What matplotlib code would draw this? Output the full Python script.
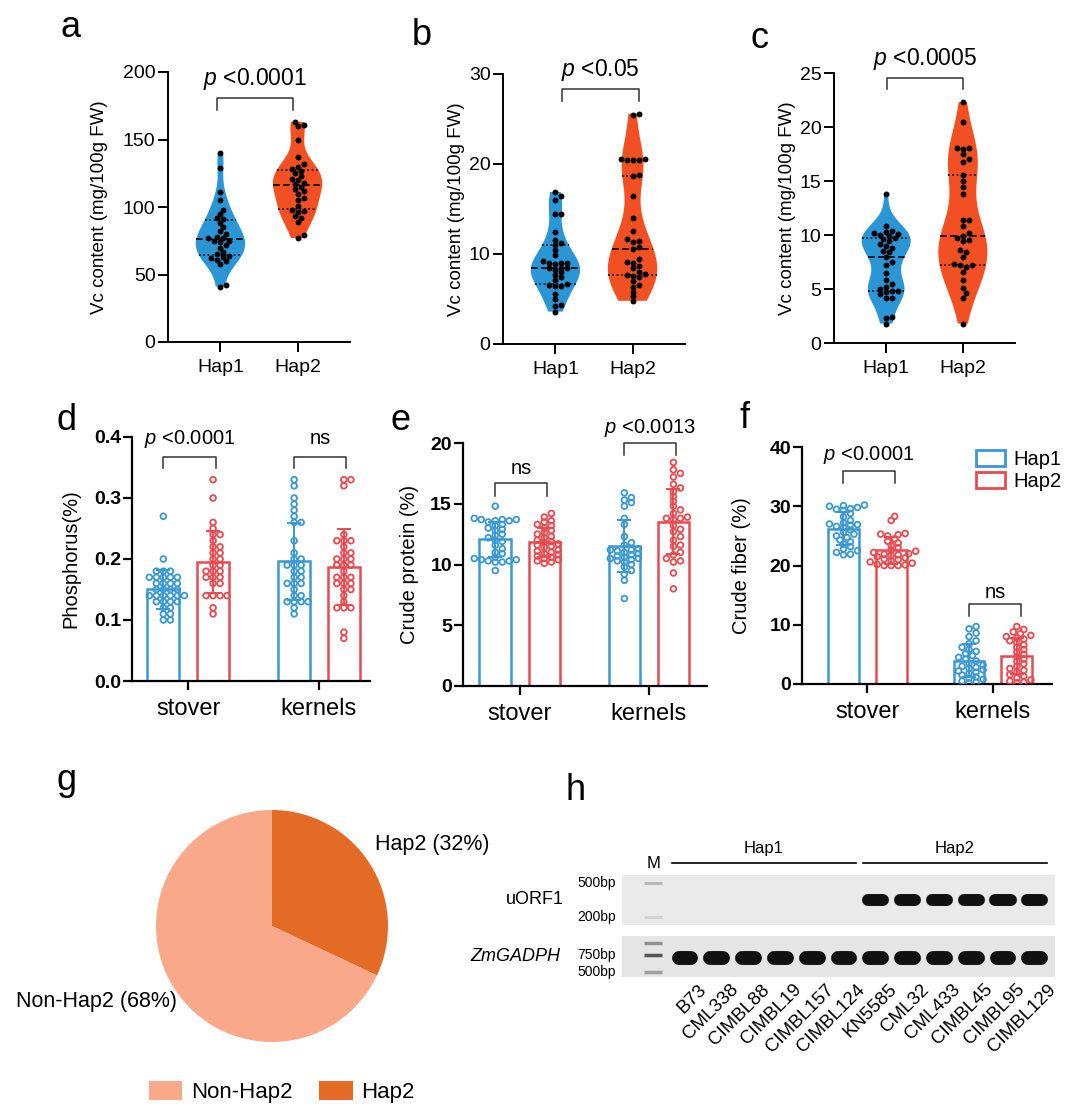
import numpy as np
import matplotlib
matplotlib.use('Agg')
import matplotlib.pyplot as plt
from matplotlib.patches import Patch
from matplotlib.transforms import blended_transform_factory

plt.rcParams['font.family'] = ['Liberation Sans', 'DejaVu Sans']
plt.rcParams['mathtext.fontset'] = 'custom'
plt.rcParams['mathtext.it'] = 'Liberation Sans:italic'
plt.rcParams['mathtext.rm'] = 'Liberation Sans'

# ---------------- data ----------------
groups = ['Hap1', 'Hap2']
tissues = ['stover', 'kernels']

# a-c: Vc content (mg/100g FW)
vc_a_hap1 = [41, 42, 58, 60, 61, 62, 63, 64, 65, 67, 70, 72, 74, 75, 75, 77, 77, 78, 80, 82,
             85, 88, 91, 92, 95, 98, 105, 111, 129, 140]
vc_a_hap2 = [77, 79, 89, 92, 93, 96, 97, 98, 101, 105, 107, 110, 112, 113, 115, 117, 118, 120,
             121, 123, 125, 127, 128, 130, 132, 137, 150, 160, 161, 163]
vc_b_hap1 = [3.6, 4.2, 4.3, 5.0, 5.6, 6.5, 6.5, 6.6, 6.7, 7.1, 7.4, 7.7, 8.0, 8.2, 8.4, 8.4, 8.5,
             8.9, 9.0, 9.0, 9.0, 9.2, 9.9, 10.4, 11.0, 11.2, 11.6, 12.5, 14.5, 14.5, 16.0, 16.4, 16.9]
vc_b_hap2 = [4.8, 5.3, 5.8, 6.3, 6.6, 7.0, 7.4, 7.6, 7.7, 7.8, 8.0, 8.4, 8.7, 9.0, 9.1, 9.4, 10.6,
             10.8, 11.3, 11.5, 11.7, 12.6, 14.0, 16.4, 18.7, 18.8, 20.4, 20.5, 20.5, 20.6, 20.6,
             25.5, 25.6]
vc_c_hap1 = [1.8, 2.3, 2.4, 4.2, 4.2, 4.5, 4.7, 4.8, 4.8, 5.0, 5.2, 5.5, 5.8, 6.5, 7.2, 7.5, 8.0,
             8.4, 8.5, 8.8, 9.0, 9.2, 9.4, 9.6, 9.7, 9.9, 10.0, 10.1, 10.2, 10.3, 10.4, 10.8, 13.8]
vc_c_hap2 = [1.8, 4.2, 4.6, 5.1, 5.8, 6.6, 7.0, 7.2, 7.2, 7.3, 8.0, 8.4, 8.6, 9.4, 9.5, 9.7, 9.9,
             10.2, 10.8, 11.4, 11.4, 13.8, 14.4, 15.0, 15.6, 16.8, 17.0, 17.5, 18.0, 18.1, 18.1,
             20.5, 22.3]

# d: phosphorus (%)
phos_stover_hap1 = [0.27, 0.20, 0.18, 0.18, 0.18, 0.17, 0.17, 0.17, 0.17, 0.17, 0.16, 0.16, 0.16,
                    0.16, 0.15, 0.15, 0.15, 0.15, 0.14, 0.14, 0.14, 0.14, 0.14, 0.14, 0.13, 0.13,
                    0.13, 0.13, 0.12, 0.12, 0.11, 0.11, 0.10, 0.10]
phos_stover_hap2 = [0.33, 0.30, 0.26, 0.25, 0.24, 0.24, 0.23, 0.22, 0.22, 0.21, 0.21, 0.20, 0.20,
                    0.19, 0.19, 0.18, 0.18, 0.18, 0.17, 0.17, 0.17, 0.16, 0.16, 0.14, 0.14, 0.14,
                    0.14, 0.12, 0.11]
phos_kernel_hap1 = [0.33, 0.32, 0.30, 0.29, 0.28, 0.27, 0.26, 0.26, 0.23, 0.21, 0.20, 0.20, 0.19,
                    0.19, 0.19, 0.18, 0.18, 0.17, 0.17, 0.16, 0.16, 0.16, 0.15, 0.14, 0.14, 0.13,
                    0.13, 0.13, 0.13, 0.12, 0.11]
phos_kernel_hap2 = [0.33, 0.33, 0.32, 0.24, 0.23, 0.23, 0.23, 0.22, 0.21, 0.21, 0.20, 0.20, 0.20,
                    0.19, 0.19, 0.19, 0.18, 0.17, 0.17, 0.17, 0.16, 0.16, 0.16, 0.15, 0.15, 0.14,
                    0.13, 0.12, 0.12, 0.12, 0.08, 0.07]

# e: crude protein (%)
prot_stover_hap1 = [14.8, 13.8, 13.7, 13.7, 13.7, 13.6, 13.6, 13.5, 13.3, 13.2, 13.0, 12.9, 12.8,
                    12.5, 12.4, 12.2, 12.0, 11.9, 11.6, 11.3, 11.0, 10.9, 10.6, 10.5, 10.4, 10.4,
                    10.3, 10.3, 10.2, 10.2, 9.5]
prot_stover_hap2 = [14.2, 13.9, 13.6, 13.5, 13.3, 13.2, 13.0, 12.8, 12.6, 12.5, 12.3, 12.2, 12.0,
                    11.9, 11.8, 11.7, 11.6, 11.5, 11.4, 11.2, 11.1, 11.0, 10.9, 10.8, 10.7, 10.6,
                    10.5, 10.4, 10.3, 10.2, 10.1]
prot_kernel_hap1 = [15.9, 15.5, 15.3, 15.1, 14.8, 13.8, 13.3, 12.3, 11.8, 11.6, 11.3, 11.2, 11.2,
                    11.1, 11.0, 10.9, 10.8, 10.7, 10.6, 10.5, 10.5, 10.4, 10.3, 10.2, 10.0, 9.8,
                    9.5, 9.2, 8.7, 7.2]
prot_kernel_hap2 = [18.4, 17.8, 17.5, 17.2, 16.6, 16.3, 16.0, 15.6, 15.2, 14.8, 14.5, 14.2, 13.9,
                    13.8, 13.8, 13.7, 13.2, 12.9, 12.7, 12.3, 12.0, 11.6, 11.5, 11.0, 10.8, 10.5,
                    10.3, 10.2, 9.3, 8.0]

# f: crude fiber (%)
fib_stover_hap1 = [30.2, 30.1, 30.0, 29.8, 29.6, 29.5, 29.3, 28.8, 28.2, 27.6, 27.2, 27.0, 26.9,
                   26.8, 26.6, 26.4, 26.0, 25.6, 25.3, 25.0, 24.7, 24.3, 24.0, 23.6, 23.2, 22.8,
                   22.5, 22.2, 21.9, 21.8]
fib_stover_hap2 = [28.3, 27.6, 25.4, 25.3, 25.2, 25.0, 24.5, 24.1, 23.8, 23.4, 23.0, 22.6, 22.4,
                   22.2, 22.0, 21.9, 21.8, 21.7, 21.5, 21.3, 21.1, 21.0, 20.8, 20.6, 20.4, 20.2,
                   20.1, 20.0, 20.0, 20.0]
fib_kernel_hap1 = [9.7, 9.3, 8.6, 8.0, 7.3, 6.8, 6.2, 5.8, 5.5, 5.1, 4.8, 4.5, 4.2, 3.9, 3.5, 3.2,
                   3.0, 2.8, 2.6, 2.4, 2.2, 2.0, 1.8, 1.5, 1.2, 1.0, 0.8, 0.5, 0.3, 0.2]
fib_kernel_hap2 = [9.7, 9.2, 8.8, 8.5, 8.2, 8.0, 7.8, 7.6, 7.3, 7.0, 6.6, 6.2, 5.8, 5.4, 5.0, 4.6,
                   4.2, 3.8, 3.4, 3.0, 2.6, 2.3, 2.0, 1.6, 1.3, 1.0, 0.7, 0.5, 0.3, 0.2]

# g: haplotype frequency (%)
pie_names = ['Hap2', 'Non-Hap2']
pie_pct = [32, 68]

# h: gel
samples = ['B73', 'CML338', 'CIMBL88', 'CIMBL19', 'CIMBL157', 'CIMBL124',
           'KN5585', 'CML32', 'CML433', 'CIMBL45', 'CIMBL95', 'CIMBL129']
sample_hap = [0] * 6 + [1] * 6
uorf1_band = [0] * 6 + [1] * 6          # band present
uorf1_bp = 320
gadph_bp = 690
ladder_up_bp = [500, 200]
ladder_up_shade = ['#b8b8b8', '#d2d2d2']
ladder_lo_bp = [1000, 750, 500]
ladder_lo_shade = ['#909090', '#555555', '#a0a0a0']

BLUE_V, ORANGE_V = '#2A96D6', '#F25022'
BLUE_B, RED_B = '#3A98D3', '#EA4A4F'
HAP2_C, NON_C = '#E46B26', '#F9A989'

W, H = 1080, 1111
fig = plt.figure(figsize=(W / 100, H / 100), dpi=100)


def box(x0, y0, x1, y1):
    return [x0 / W, 1 - y1 / H, (x1 - x0) / W, (y1 - y0) / H]


def swarm_x(ax, vals, xc, dx, dy):
    # beeswarm in pixel space, elliptical collision (dx wide, dy tall)
    pts = ax.transData.transform(np.column_stack([np.full(len(vals), xc), vals]))
    x0 = pts[0, 0]
    ys = pts[:, 1]
    offs = np.zeros(len(vals))
    placed = []
    step = dx / 2
    cands = [0.0]
    for k in range(1, 40):
        cands += [k * step, -k * step]
    for i in np.argsort(ys):
        y = ys[i]
        for off in cands:
            if all(((off - px) / dx) ** 2 + ((y - py) / dy) ** 2 >= 1 for px, py in placed):
                break
        placed.append((off, y))
        offs[i] = off
    back = ax.transData.inverted().transform(np.column_stack([x0 + offs, ys]))
    return back[:, 0]


def bracket(ax, x0, x1, ylo, yhi, ytxt, txt, fs):
    ax.plot([x0, x0, x1, x1], [ylo, yhi, yhi, ylo], color='#333333', lw=1.1, clip_on=False)
    ax.text((x0 + x1) / 2, ytxt, txt, ha='center', va='center', fontsize=fs, clip_on=False)


def violin_panel(rect, data, ymax, ystep, ptext, br, labelpad):
    ax = fig.add_axes(rect)
    ax.set_xlim(-0.68, 1.68)
    ax.set_ylim(0, ymax)
    parts = ax.violinplot(data, positions=[0, 1], widths=0.64, showextrema=False, bw_method=0.42)
    for pos, vals, body, col in zip([0, 1], data, parts['bodies'], [BLUE_V, ORANGE_V]):
        body.set_facecolor(col)
        body.set_edgecolor('none')
        body.set_alpha(1)
        body.set_zorder(1)
        v = body.get_paths()[0].vertices
        right = v[v[:, 0] >= pos]
        o = np.argsort(right[:, 1])
        for q, ls in zip(np.percentile(vals, [25, 50, 75]),
                         [(0, (1, 1.6)), (0, (4, 2)), (0, (1, 1.6))]):
            w = np.interp(q, right[o, 1], right[o, 0]) - pos
            ax.plot([pos - w, pos + w], [q, q], color='k', lw=1.2, ls=ls, zorder=2)
        xs = swarm_x(ax, vals, pos, 6.0, 4.5)
        ax.scatter(xs, vals, s=18, color='k', zorder=3, linewidths=0)
    for s in ['top', 'right']:
        ax.spines[s].set_visible(False)
    for s in ['left', 'bottom']:
        ax.spines[s].set_linewidth(1.4)
    ax.set_xticks([0, 1], groups)
    ax.set_yticks(np.arange(0, ymax + ystep / 2, ystep))
    ax.tick_params(axis='both', labelsize=14, width=1.4, length=7)
    ax.tick_params(axis='y', pad=2)
    ax.tick_params(axis='x', pad=5)
    ax.set_ylabel('Vc content (mg/100g FW)', fontsize=13.5, labelpad=labelpad)
    bracket(ax, br[0], br[1], br[2], br[3], br[4], ptext, 16.5)
    return ax


def bar_panel(rect, data, ymax, ystep, fmt, xlim, ylabel, labelpad, brs):
    ax = fig.add_axes(rect)
    ax.set_xlim(*xlim)
    ax.set_ylim(0, ymax)
    for gi, (h1, h2) in enumerate(data):
        for off, vals, col in [(-0.19, h1, BLUE_B), (0.19, h2, RED_B)]:
            x = gi + off
            m = np.mean(vals)
            sd = np.std(vals, ddof=1)
            ax.bar(x, m, width=0.245, facecolor='none', edgecolor=col, lw=1.8, zorder=1)
            ax.errorbar(x, m, yerr=sd, color=col, lw=1.4, capsize=5, capthick=1.4, zorder=2)
            xs = swarm_x(ax, vals, x, 7.0, 4.6)
            ax.scatter(xs, vals, s=17, facecolors='none', edgecolors=col, linewidths=1.3, zorder=3)
    for s in ['top', 'right']:
        ax.spines[s].set_visible(False)
    for s in ['left', 'bottom']:
        ax.spines[s].set_linewidth(1.6)
    ticks = np.arange(0, ymax + ystep / 2, ystep)
    ax.set_yticks(ticks, [fmt.format(t) for t in ticks], fontweight='bold', fontsize=14)
    ax.set_xticks([0, 1], tissues, fontsize=17)
    ax.tick_params(axis='both', width=1.6, length=6.5)
    ax.tick_params(axis='y', pad=1.5)
    ax.tick_params(axis='x', pad=6)
    ax.set_ylabel(ylabel, fontsize=14.5, labelpad=labelpad)
    for b in brs:
        bracket(ax, *b, 14.5)
    return ax


# ---------------- a, b, c ----------------
violin_panel(box(168, 72, 350, 342), [vc_a_hap1, vc_a_hap2], 200, 50, r'$p$ <0.0001',
             (-0.04, 0.94, 172, 181, 195), 11)
violin_panel(box(503, 74, 685, 344), [vc_b_hap1, vc_b_hap2], 30, 10, r'$p$ <0.05',
             (0.09, 1.08, 27, 28.3, 30.4), 2.5)
violin_panel(box(834, 73, 1015, 343), [vc_c_hap1, vc_c_hap2], 25, 5, r'$p$ <0.0005',
             (0.01, 1.0, 23.5, 24.5, 26.3), 3)

# ---------------- d, e, f ----------------
bar_panel(box(132, 437, 370, 681),
          [(phos_stover_hap1, phos_stover_hap2), (phos_kernel_hap1, phos_kernel_hap2)],
          0.4, 0.1, '{:.1f}', (-0.43, 1.39), 'Phosphorus(%)', 10,
          [(-0.19, 0.21, 0.349, 0.367, 0.397, r'$p$ <0.0001'),
           (0.81, 1.21, 0.349, 0.367, 0.397, 'ns')])
bar_panel(box(463, 443, 707, 686),
          [(prot_stover_hap1, prot_stover_hap2), (prot_kernel_hap1, prot_kernel_hap2)],
          20, 5, '{:.0f}', (-0.44, 1.45), 'Crude protein (%)', 8,
          [(-0.19, 0.21, 15.6, 16.7, 17.9, 'ns'),
           (0.81, 1.21, 19.0, 20.0, 21.2, r'$p$ <0.0013')])
bar_panel(box(802, 447, 1052, 684),
          [(fib_stover_hap1, fib_stover_hap2), (fib_kernel_hap1, fib_kernel_hap2)],
          40, 10, '{:.0f}', (-0.52, 1.47), 'Crude fiber (%)', 13,
          [(-0.19, 0.22, 33.9, 35.9, 38.6, r'$p$ <0.0001'),
           (0.81, 1.22, 11.5, 13.5, 15.4, 'ns')])
fig.legend(handles=[Patch(facecolor='white', edgecolor=BLUE_B, lw=2, label='Hap1'),
                    Patch(facecolor='white', edgecolor=RED_B, lw=2, label='Hap2')],
           loc='upper left', bbox_to_anchor=(976 / W, 1 - 450 / H), frameon=False,
           fontsize=14.5, handlelength=1.45, handleheight=0.8, handletextpad=0.4,
           borderpad=0, borderaxespad=0, labelspacing=0.15)

# ---------------- g ----------------
axg = fig.add_axes(box(156, 810, 388, 1042))
axg.pie(pie_pct, colors=[HAP2_C, NON_C], startangle=90, counterclock=False, radius=1)
axg.set_xlim(-1, 1)
axg.set_ylim(-1, 1)
axg.text(0.89, 0.70, f'{pie_names[0]} ({pie_pct[0]}%)', ha='left', va='center', fontsize=15.5)
axg.text(-0.82, -0.655, f'{pie_names[1]} ({pie_pct[1]}%)', ha='right', va='center', fontsize=15.5)
fig.legend(handles=[Patch(facecolor=NON_C, label=pie_names[1]),
                    Patch(facecolor=HAP2_C, label=pie_names[0])],
           loc='center', bbox_to_anchor=(282 / W, 1 - 1092 / H), ncol=2, frameon=False,
           fontsize=16, handlelength=1.5, handleheight=0.9, handletextpad=0.4,
           columnspacing=1.2, borderpad=0)

# ---------------- h ----------------
LANE_X0, LANE_DX = 685, 31.8
xlim_gel = ((622 - LANE_X0) / LANE_DX, (1055 - LANE_X0) / LANE_DX)
lanes = np.arange(len(samples))

ax_up = fig.add_axes(box(622, 875, 1055, 925))
ax_lo = fig.add_axes(box(622, 936, 1055, 977))
for ax, lim, fc in [(ax_up, (161, 621), '#EAEAEA'), (ax_lo, (446, 1170), '#E5E5E5')]:
    ax.set_yscale('log')
    ax.set_xlim(*xlim_gel)
    ax.set_ylim(*lim)
    ax.set_facecolor(fc)
    ax.tick_params(which='both', left=False, bottom=False, labelleft=False, labelbottom=False)
    for s in ax.spines.values():
        s.set_visible(False)

for lane, present in zip(lanes, uorf1_band):
    if present:
        ax_up.plot([lane - 0.24, lane + 0.24], [uorf1_bp, uorf1_bp], color='#111111', lw=8.6,
                   solid_capstyle='round')
for lane in lanes:
    ax_lo.plot([lane - 0.2, lane + 0.2], [gadph_bp, gadph_bp], color='#111111', lw=10,
               solid_capstyle='round')
for bp, c in zip(ladder_up_bp, ladder_up_shade):
    ax_up.plot([-1.28, -0.72], [bp, bp], color=c, lw=2.2, solid_capstyle='butt')
for bp, c in zip(ladder_lo_bp, ladder_lo_shade):
    ax_lo.plot([-1.28, -0.72], [bp, bp], color=c, lw=2.5, solid_capstyle='butt')

for ax, bps in [(ax_up, ladder_up_bp), (ax_lo, ladder_lo_bp[1:])]:
    tr = blended_transform_factory(ax.transAxes, ax.transData)
    for bp in bps:
        ax.text(-0.015, bp, f'{bp}bp', transform=tr, ha='right', va='center', fontsize=10)

ax_up.text(-0.135, 0.5, 'uORF1', transform=ax_up.transAxes, ha='right', va='center', fontsize=13)
ax_lo.text(-0.142, 0.5, 'ZmGADPH', transform=ax_lo.transAxes, ha='right', va='center',
           fontsize=13, style='italic')

tr_up = blended_transform_factory(ax_up.transData, ax_up.transAxes)
ax_up.text(-1, 1.24, 'M', transform=tr_up, ha='center', va='center', fontsize=12)
sample_hap = np.array(sample_hap)
for gi, g in enumerate(groups):
    idx = lanes[sample_hap == gi]
    x0, x1 = idx.min() - 0.41, idx.max() + 0.38
    ax_up.plot([x0, x1], [1.24, 1.24], transform=tr_up, color='k', lw=1.2, clip_on=False)
    ax_up.text((x0 + x1) / 2, 1.54, g, transform=tr_up, ha='center', va='center', fontsize=12)

tr_lo = blended_transform_factory(ax_lo.transData, ax_lo.transAxes)
for lane, name in zip(lanes, samples):
    ax_lo.text(lane + 0.4, -0.1, name, transform=tr_lo, rotation=45, rotation_mode='anchor',
               ha='right', va='top', fontsize=13.5)

# ---------------- panel letters ----------------
for ch, x, y in [('a', 60, 37), ('b', 412, 45), ('c', 750, 48), ('d', 57, 430),
                 ('e', 390, 430), ('f', 740, 428), ('g', 57, 790), ('h', 565, 800)]:
    fig.text(x / W, 1 - y / H, ch, fontsize=26, va='baseline')

fig.savefig('out.png', dpi=100)
